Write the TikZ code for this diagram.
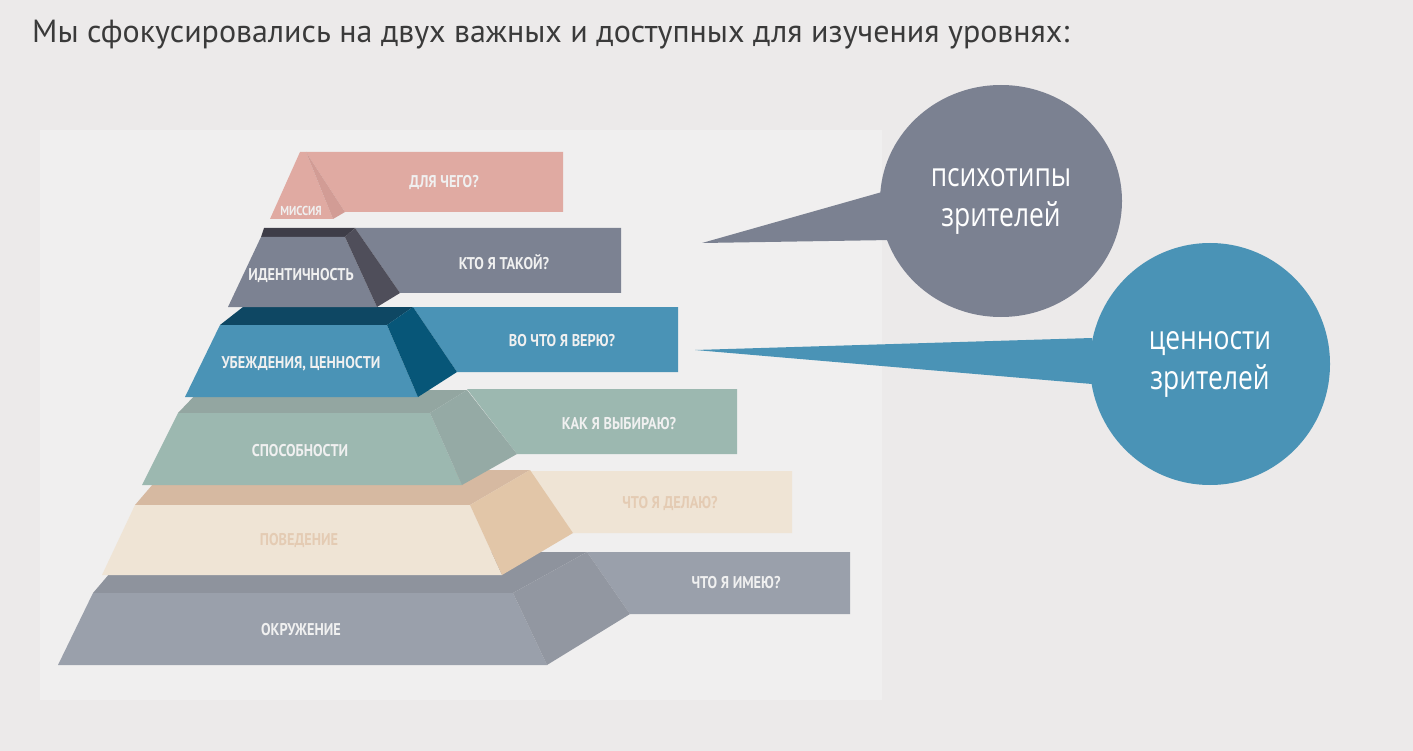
\documentclass[tikz,border=0pt]{standalone}
\usepackage{fontspec}
\setmainfont{PT Sans}
\newfontfamily\titlefont{PT Sans}
\newfontfamily\circfont[FakeStretch=0.8]{Open Sans}
\newfontfamily\labfont[FakeStretch=0.84]{PT Sans}
\usetikzlibrary{shapes.geometric}
\definecolor{bgc}{HTML}{ECEAEA}
\definecolor{paper}{HTML}{F0EFEF}
\definecolor{titlec}{HTML}{3A3A3A}
% mission
\definecolor{pinkF}{HTML}{E0AAA2}
\definecolor{pinkS}{HTML}{D29C95}
% identity
\definecolor{idF}{HTML}{7C8292}
\definecolor{idT}{HTML}{3E3D48}
\definecolor{idS}{HTML}{4F4E5A}
% beliefs
\definecolor{blF}{HTML}{4A93B6}
\definecolor{blT}{HTML}{0E4763}
\definecolor{blS}{HTML}{075678}
% abilities
\definecolor{grF}{HTML}{9CB8B0}
\definecolor{grT}{HTML}{93A6A1}
\definecolor{grS}{HTML}{95AAA5}
% behaviour
\definecolor{crF}{HTML}{EFE4D5}
\definecolor{crT}{HTML}{D6B9A1}
\definecolor{crS}{HTML}{E2C6A8}
\definecolor{crTxt}{HTML}{E4CBB3}
% environment
\definecolor{gyF}{HTML}{9AA0AB}
\definecolor{gyT}{HTML}{8E939D}
\definecolor{gyS}{HTML}{9297A1}
% circles
\definecolor{circG}{HTML}{7B8191}
\definecolor{circB}{HTML}{4A93B6}
\begin{document}
\begin{tikzpicture}[x=1pt,y=-1pt,
  lab/.style={font=\labfont\bfseries\fontsize{17}{17}\selectfont, text=white!94!black, inner sep=0pt},
  smalllab/.style={font=\labfont\bfseries\fontsize{13}{13}\selectfont, text=white!94!black, inner sep=0pt},
  bubble/.style={ellipse, inner sep=0pt, font=\circfont\fontsize{33}{40}\selectfont, text=white, align=center}]
\useasboundingbox (0,0) rectangle (1413,751);
\fill[bgc] (0,0) rectangle (1413,751);
\fill[paper] (40,130) rectangle (882,700);
% title
\node[anchor=base west, inner sep=0pt, font=\titlefont\fontsize{32}{32}\selectfont, text=titlec] (title) at (32,43)
  {Мы сфокусировались на двух важных и доступных для изучения уровнях:};
% ---- layer 6: environment
\fill[gyF] (587,552) -- (850,552) -- (850,614) -- (630,614) -- cycle;
\fill[gyT] (93,593) -- (128,552) -- (587,552) -- (513,593) -- cycle;
\fill[gyF] (93,593) -- (513,593) -- (547,665) -- (58,665) -- cycle;
\fill[gyS] (513,593) -- (587,552) -- (630,614) -- (547,665) -- cycle;
% ---- layer 5: behaviour
\fill[crF] (530,471) -- (792,471) -- (792,533) -- (573,533) -- cycle;
\fill[crT] (135,505) -- (165,470) -- (530,470) -- (470,505) -- cycle;
\fill[crF] (135,505) -- (470,505) -- (502,575) -- (102,575) -- cycle;
\fill[crS] (470,505) -- (530,470) -- (573,533) -- (502,575) -- cycle;
% ---- layer 4: abilities
\fill[grF] (467,389) -- (737,389) -- (737,454) -- (517,454) -- cycle;
\fill[grT] (178,413) -- (200,390) -- (467,390) -- (430,413) -- cycle;
\fill[grF] (178,413) -- (430,413) -- (462,485) -- (142,485) -- cycle;
\fill[grS] (430,413) -- (467,390) -- (517,454) -- (462,485) -- cycle;
% ---- layer 3: beliefs
\fill[blF] (413,307) -- (678,307) -- (678,372) -- (457,372) -- cycle;
\fill[blT] (220,325) -- (243,307) -- (413,307) -- (387,325) -- cycle;
\fill[blF] (220,325) -- (387,325) -- (418,397) -- (185,397) -- cycle;
\fill[blS] (387,325) -- (413,307) -- (457,372) -- (418,397) -- cycle;
% ---- layer 2: identity
\fill[idF] (355,228) -- (621,228) -- (621,293) -- (400,293) -- cycle;
\fill[idT] (261,237) -- (264,228) -- (355,228) -- (345,237) -- cycle;
\fill[idF] (261,237) -- (345,237) -- (377,307) -- (228,307) -- cycle;
\fill[idS] (345,237) -- (355,228) -- (400,293) -- (377,307) -- cycle;
% ---- layer 1: mission
\fill[pinkF] (306,152) -- (563,152) -- (563,212) -- (345,212) -- cycle;
\fill[pinkF] (300,152) -- (306,152) -- (333,219) -- (270,219) -- cycle;
\fill[pinkS] (306,152) -- (345,212) -- (333,219) -- cycle;
% labels
\node[smalllab] (l1a) at (301,211) {МИССИЯ};
\node[lab] (l1b) at (444,182) {ДЛЯ ЧЕГО?};
\node[lab] (l2a) at (301,275) {ИДЕНТИЧНОСТЬ};
\node[lab] (l2b) at (504,262) {КТО Я ТАКОЙ?};
\node[lab] (l3a) at (301,364) {УБЕЖДЕНИЯ, ЦЕННОСТИ};
\node[lab] (l3b) at (562,341) {ВО ЧТО Я ВЕРЮ?};
\node[lab] (l4a) at (300,451) {СПОСОБНОСТИ};
\node[lab] (l4b) at (619,424) {КАК Я ВЫБИРАЮ?};
\node[lab, text=crTxt] (l5a) at (299,540) {ПОВЕДЕНИЕ};
\node[lab, text=crTxt] (l5b) at (670,503) {ЧТО Я ДЕЛАЮ?};
\node[lab] (l6a) at (301,630) {ОКРУЖЕНИЕ};
\node[lab] (l6b) at (736,583) {ЧТО Я ИМЕЮ?};
% callouts
\fill[circG] (702,243) -- (882,192) -- (892,240) -- cycle;
\node[bubble, fill=circG, minimum width=242pt, minimum height=232pt] (c1) at (1001,201) {психотипы\\зрителей};
\fill[circB] (695,350) -- (1092,338) -- (1092,384) -- cycle;
\node[bubble, fill=circB, minimum width=240pt, minimum height=242pt] (c2) at (1210,364) {ценности\\зрителей};
\end{tikzpicture}
\end{document}
